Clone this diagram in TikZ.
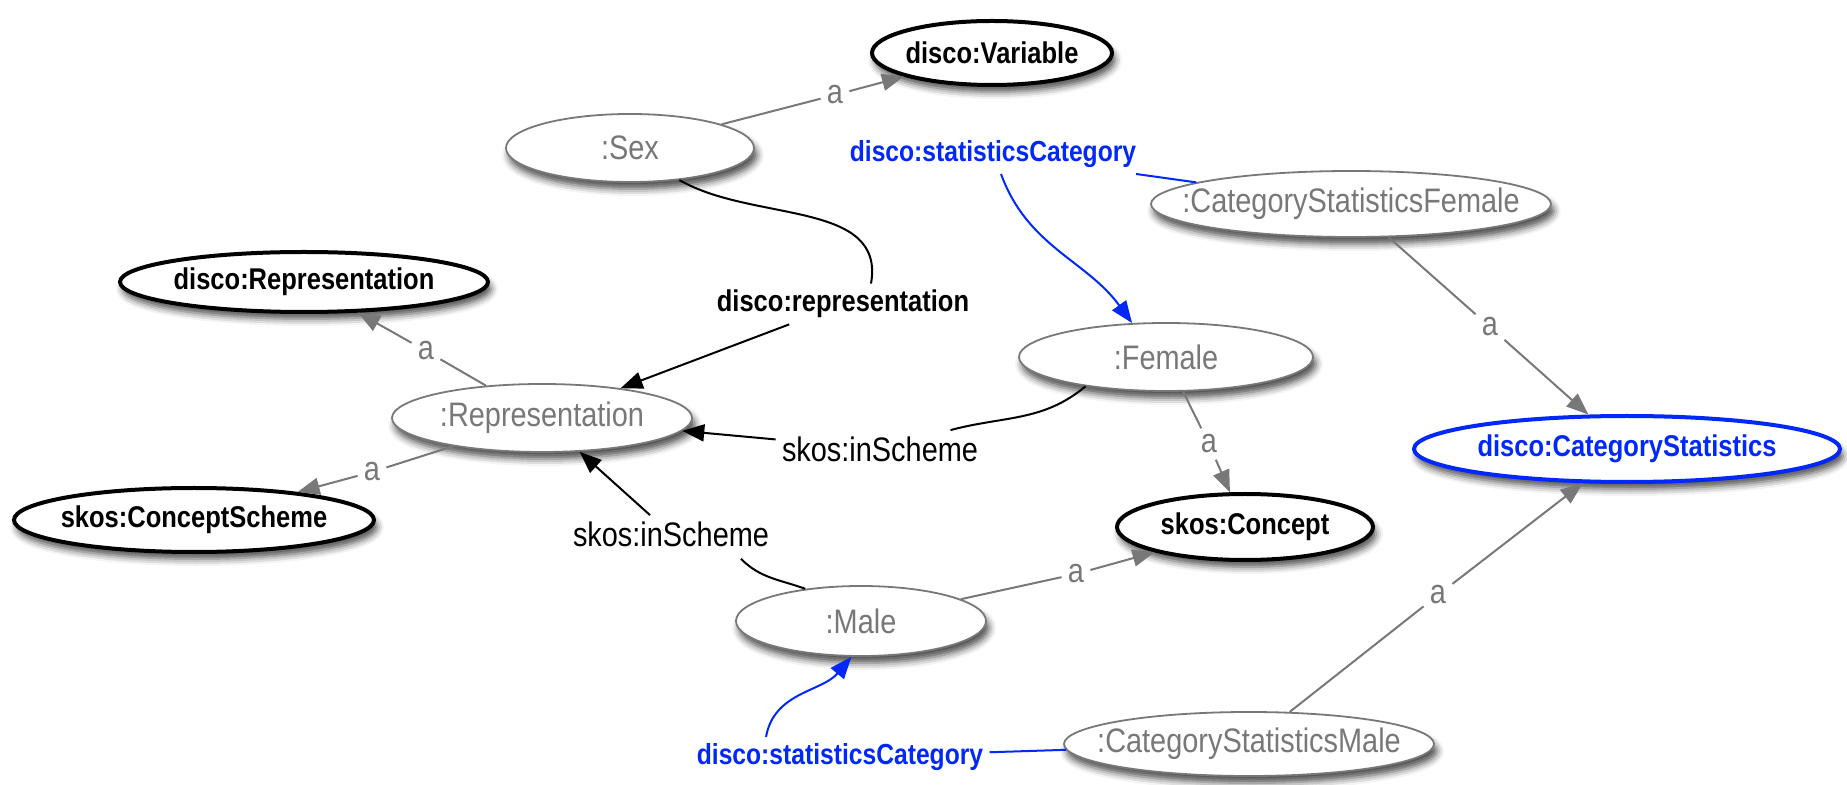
\documentclass[tikz,border=0pt]{standalone}
\usepackage{fontspec}
\setmainfont{Liberation Sans}[FakeStretch=0.85]
\usetikzlibrary{shapes.geometric,arrows.meta,shadows.blur,calc}
\definecolor{catblue}{RGB}{0,40,250}
\definecolor{indgray}{RGB}{120,120,120}
\tikzset{
  indiv/.style={ellipse, draw=indgray, line width=0.9pt, fill=white, text=indgray,
    inner xsep=-30pt, inner ysep=0pt, font=\fontsize{17}{20}\selectfont,
    blur shadow={shadow xshift=1.5pt, shadow yshift=-3.5pt, shadow blur radius=3.5pt, shadow opacity=70}},
  klass/.style={indiv, draw=black, line width=2pt, text=black, font=\bfseries\fontsize{15}{18}\selectfont},
  blueklass/.style={klass, draw=catblue, text=catblue},
  lbl/.style={fill=white, inner sep=3pt, font=\fontsize{17}{20}\selectfont},
  alab/.style={lbl, text=indgray},
  proplab/.style={lbl, font=\bfseries\fontsize{15}{18}\selectfont},
  bluelab/.style={lbl, text=catblue, font=\bfseries\fontsize{14.5}{17}\selectfont},
  isa/.style={draw=indgray, line width=1pt},
  isaarrow/.style={isa, -{Triangle[length=11pt,width=8.5pt]}},
  rel/.style={draw=black, line width=1pt},
  relarrow/.style={rel, -{Triangle[length=11pt,width=8.5pt]}},
  catrel/.style={draw=catblue, line width=1pt},
  catarrow/.style={catrel, -{Triangle[length=11pt,width=8.5pt]}},
}
\begin{document}
\begin{tikzpicture}[x=0.5pt,y=-0.5pt]
  \useasboundingbox (0,0) rectangle (1847,785);
  % classes
  \node[klass, minimum width=120pt, minimum height=32pt] (var) at (992,53) {disco:Variable};
  \node[klass, minimum width=184pt, minimum height=30pt] (drep) at (304,282) {disco:Representation};
  \node[klass, minimum width=180pt, minimum height=32pt] (cscheme) at (194,520) {skos:ConceptScheme};
  \node[klass, minimum width=128pt, minimum height=33pt] (concept) at (1245,527) {skos:Concept};
  \node[blueklass, minimum width=213pt, minimum height=33pt] (catstat) at (1627,449) {disco:CategoryStatistics};
  % individuals
  \node[indiv, minimum width=124pt, minimum height=34pt] (sex) at (630,148) {:Sex};
  \node[indiv, minimum width=150pt, minimum height=34pt] (rep) at (542,418) {:Representation};
  \node[indiv, minimum width=147pt, minimum height=34pt] (fem) at (1166,357) {:Female};
  \node[indiv, minimum width=125pt, minimum height=35pt] (male) at (861,621) {:Male};
  \node[indiv, minimum width=200pt, minimum height=33pt] (csf) at (1351,204) {:CategoryStatisticsFemale};
  \node[indiv, minimum width=185pt, minimum height=32pt] (csm) at (1249,744) {:CategoryStatisticsMale};

  % edge labels
  \node[alab] (a1) at (835,95) {a};
  \node[alab] (a2) at (426,351) {a};
  \node[alab] (a3) at (372,472) {a};
  \node[alab] (a4) at (1209,444) {a};
  \node[alab] (a5) at (1490,327) {a};
  \node[alab] (a6) at (1076,574) {a};
  \node[alab] (a7) at (1438,595) {a};
  \node[proplab] (drepl) at (843,304) {disco:representation};
  \node[lbl] (ins1) at (880,449) {skos:inScheme};
  \node[lbl] (ins2) at (671,534) {skos:inScheme};
  \node[bluelab] (sc1) at (993,154) {disco:statisticsCategory};
  \node[bluelab] (sc2) at (840,757) {disco:statisticsCategory};

  % rdf:type
  \draw[isa] (sex) -- (a1);   \draw[isaarrow] (a1) -- (var);
  \draw[isa] (rep) -- (a2);   \draw[isaarrow] (a2) -- (drep);
  \draw[isa] (rep) -- (a3);   \draw[isaarrow] (a3) -- (cscheme);
  \draw[isa] (fem) -- (a4);   \draw[isaarrow] (a4) -- (concept);
  \draw[isa] (male) -- (a6);  \draw[isaarrow] (a6) -- (concept);
  \draw[isa] (csf) -- (a5);   \draw[isaarrow] (a5) -- (catstat);
  \draw[isa] (csm) -- (a7);   \draw[isaarrow] (a7) -- (catstat);

  % properties
  \draw[rel] (sex.-33) to[out=-30,in=80] ($(drepl.north)+(28,0)$);
  \draw[relarrow] (drepl) -- (rep);
  \draw[rel] (fem.200) to[out=220,in=15] (ins1);
  \draw[relarrow] (ins1) -- (rep);
  \draw[rel] (male.150) to[out=160,in=-45] ($(ins2.south)+(70,6)$);
  \draw[relarrow] (ins2) -- (rep);

  % statistics categories
  \draw[catrel] (csf) -- (sc1);
  \draw[catarrow] ($(sc1.south)+(8,0)$) to[out=-70,in=126] (fem.135);
  \draw[catrel] (csm) -- (sc2);
  \draw[catarrow] ($(sc2.north)+(-74,0)$) to[out=80,in=-130] (male.-105);
\end{tikzpicture}
\end{document}
